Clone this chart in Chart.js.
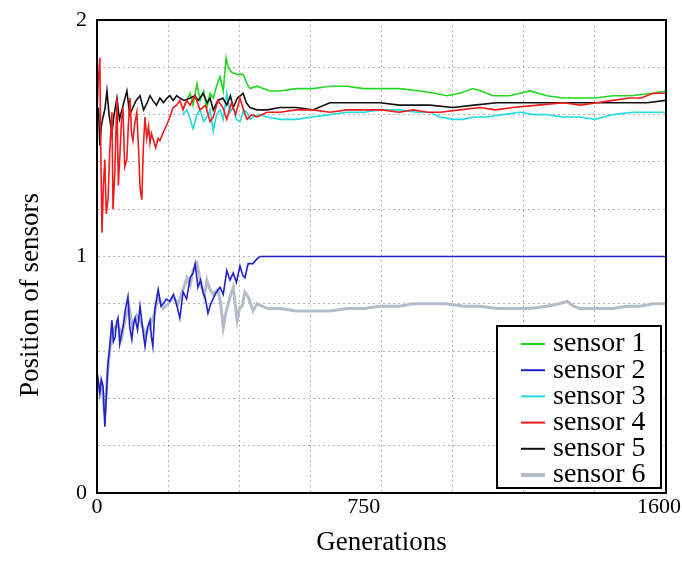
<!DOCTYPE html>
<html>
<head>
<meta charset="utf-8">
<script src="https://cdn.jsdelivr.net/npm/chart.js@4"></script>
<style>
  html, body { margin: 0; padding: 0; background: #fff; }
  #wrap { width: 682px; height: 561px; }
</style>
</head>
<body>
<div id="wrap"><canvas id="chart" width="682" height="561"></canvas></div>
<script>
// ---- data ----
const labels = ["sensor 1", "sensor 2", "sensor 3", "sensor 4", "sensor 5", "sensor 6"];
const xTickLabels = [0, 750, 1600];
const yTickLabels = [0, 1, 2];

const gens1 = [240, 253, 262, 270, 281, 290, 300, 309, 318, 327, 336, 346, 355, 363, 369, 378, 394, 411, 422, 430, 450, 467, 487, 515, 560, 607, 655, 703, 750, 796, 850, 908, 950, 984, 1020, 1057, 1080, 1114, 1160, 1218, 1265, 1310, 1358, 1400, 1451, 1500, 1564, 1600];
const sensor1 = [1.62, 1.66, 1.69, 1.64, 1.73, 1.66, 1.70, 1.63, 1.69, 1.67, 1.72, 1.76, 1.70, 1.84, 1.80, 1.78, 1.77, 1.77, 1.73, 1.71, 1.72, 1.71, 1.70, 1.70, 1.71, 1.71, 1.72, 1.72, 1.71, 1.71, 1.71, 1.70, 1.69, 1.68, 1.69, 1.71, 1.70, 1.68, 1.68, 1.70, 1.68, 1.67, 1.67, 1.67, 1.68, 1.68, 1.69, 1.70];

const gens2 = [0, 4, 8, 12, 17, 22, 26, 31, 36, 42, 46, 51, 55, 59, 64, 70, 75, 79, 87, 92, 98, 103, 107, 114, 121, 128, 135, 142, 149, 153, 157, 163, 172, 180, 186, 195, 205, 215, 225, 233, 242, 252, 262, 270, 276, 284, 291, 298, 305, 312, 320, 326, 336, 346, 355, 365, 374, 383, 392, 402, 410, 416, 425, 438, 450, 458, 480, 600, 800, 1000, 1200, 1400, 1600];
const sensor2 = [0.51, 0.47, 0.42, 0.48, 0.45, 0.28, 0.40, 0.55, 0.62, 0.73, 0.64, 0.66, 0.72, 0.74, 0.63, 0.68, 0.72, 0.77, 0.83, 0.70, 0.65, 0.72, 0.74, 0.69, 0.79, 0.70, 0.62, 0.70, 0.73, 0.66, 0.62, 0.78, 0.86, 0.79, 0.80, 0.82, 0.81, 0.84, 0.79, 0.74, 0.85, 0.82, 0.91, 0.93, 0.97, 0.87, 0.90, 0.85, 0.82, 0.76, 0.80, 0.82, 0.85, 0.87, 0.84, 0.94, 0.90, 0.93, 0.89, 0.96, 0.92, 0.91, 0.97, 0.97, 0.99, 1.00, 1.00, 1.00, 1.00, 1.00, 1.00, 1.00, 1.00];

const gens3 = [240, 253, 262, 270, 281, 290, 300, 309, 318, 327, 336, 346, 355, 365, 374, 383, 392, 402, 412, 422, 430, 439, 455, 478, 515, 560, 607, 655, 703, 750, 796, 850, 900, 936, 965, 1000, 1029, 1060, 1097, 1140, 1190, 1230, 1265, 1310, 1358, 1400, 1451, 1507, 1564, 1600];
const sensor3 = [1.60, 1.62, 1.58, 1.54, 1.60, 1.62, 1.57, 1.59, 1.62, 1.53, 1.60, 1.62, 1.58, 1.69, 1.61, 1.63, 1.58, 1.57, 1.62, 1.61, 1.58, 1.59, 1.60, 1.59, 1.58, 1.58, 1.59, 1.60, 1.61, 1.61, 1.62, 1.62, 1.61, 1.61, 1.59, 1.58, 1.58, 1.59, 1.59, 1.60, 1.61, 1.60, 1.60, 1.59, 1.59, 1.58, 1.60, 1.61, 1.61, 1.61];

const gens4 = [0, 4, 8, 11, 14, 18, 22, 26, 31, 36, 42, 45, 50, 56, 60, 65, 69, 73, 78, 84, 88, 93, 97, 101, 106, 112, 117, 121, 126, 130, 135, 140, 145, 149, 153, 157, 165, 172, 177, 185, 197, 205, 214, 224, 233, 242, 252, 262, 275, 290, 305, 318, 327, 340, 354, 365, 378, 390, 402, 412, 422, 435, 450, 478, 515, 560, 607, 655, 703, 749, 800, 850, 889, 930, 965, 1020, 1077, 1120, 1170, 1240, 1311, 1360, 1406, 1450, 1498, 1530, 1564, 1600];
const sensor4 = [1.60, 1.75, 1.84, 1.40, 1.10, 1.30, 1.41, 1.18, 1.24, 1.45, 1.61, 1.20, 1.35, 1.67, 1.30, 1.45, 1.58, 1.63, 1.38, 1.41, 1.55, 1.67, 1.52, 1.49, 1.56, 1.61, 1.45, 1.29, 1.24, 1.45, 1.59, 1.50, 1.55, 1.48, 1.52, 1.50, 1.46, 1.50, 1.49, 1.52, 1.56, 1.59, 1.63, 1.64, 1.66, 1.62, 1.66, 1.64, 1.68, 1.62, 1.64, 1.57, 1.59, 1.66, 1.63, 1.58, 1.65, 1.60, 1.67, 1.62, 1.58, 1.60, 1.59, 1.61, 1.61, 1.62, 1.62, 1.61, 1.62, 1.62, 1.62, 1.61, 1.62, 1.61, 1.61, 1.62, 1.63, 1.62, 1.63, 1.64, 1.65, 1.64, 1.65, 1.66, 1.67, 1.67, 1.69, 1.69];

const gens5 = [0, 4, 8, 12, 17, 22, 28, 34, 42, 48, 56, 63, 70, 77, 84, 92, 101, 110, 121, 131, 141, 149, 157, 167, 177, 187, 197, 205, 214, 224, 233, 245, 262, 275, 285, 298, 310, 318, 327, 340, 354, 365, 375, 383, 395, 411, 420, 430, 450, 478, 515, 560, 607, 655, 703, 750, 796, 850, 900, 936, 1001, 1060, 1125, 1190, 1265, 1330, 1406, 1470, 1547, 1600];
const sensor5 = [1.57, 1.63, 1.47, 1.55, 1.59, 1.62, 1.70, 1.60, 1.52, 1.60, 1.67, 1.58, 1.62, 1.66, 1.70, 1.60, 1.63, 1.66, 1.68, 1.62, 1.65, 1.68, 1.66, 1.64, 1.67, 1.65, 1.67, 1.68, 1.66, 1.68, 1.67, 1.66, 1.67, 1.68, 1.66, 1.69, 1.65, 1.67, 1.62, 1.66, 1.67, 1.64, 1.68, 1.63, 1.67, 1.69, 1.65, 1.63, 1.62, 1.62, 1.63, 1.63, 1.62, 1.65, 1.65, 1.65, 1.65, 1.64, 1.64, 1.64, 1.63, 1.64, 1.65, 1.65, 1.65, 1.65, 1.65, 1.65, 1.65, 1.66];

const gens6 = [0, 6, 14, 22, 30, 40, 50, 60, 70, 80, 90, 100, 112, 124, 136, 148, 160, 172, 186, 200, 214, 228, 242, 253, 262, 270, 281, 288, 295, 302, 309, 318, 327, 340, 348, 355, 362, 369, 376, 383, 394, 401, 408, 416, 425, 432, 439, 450, 464, 480, 515, 560, 607, 655, 703, 750, 796, 850, 889, 940, 984, 1030, 1077, 1125, 1170, 1218, 1265, 1300, 1322, 1340, 1358, 1400, 1451, 1490, 1527, 1564, 1600];
const sensor6 = [0.50, 0.44, 0.46, 0.33, 0.52, 0.66, 0.70, 0.71, 0.66, 0.74, 0.79, 0.70, 0.75, 0.72, 0.67, 0.70, 0.75, 0.83, 0.78, 0.80, 0.83, 0.80, 0.86, 0.91, 0.88, 0.94, 0.97, 0.92, 0.87, 0.83, 0.90, 0.86, 0.84, 0.86, 0.80, 0.70, 0.76, 0.80, 0.84, 0.87, 0.73, 0.78, 0.79, 0.85, 0.83, 0.80, 0.77, 0.80, 0.79, 0.78, 0.78, 0.77, 0.77, 0.77, 0.78, 0.78, 0.79, 0.79, 0.80, 0.80, 0.80, 0.79, 0.79, 0.78, 0.78, 0.78, 0.79, 0.80, 0.81, 0.79, 0.78, 0.78, 0.78, 0.79, 0.79, 0.80, 0.80];

const colors = ["#22d622", "#1f22c8", "#22dce0", "#ee1c1c", "#111111", "#b4bccb"];
const widths = [1.6, 1.6, 1.6, 1.6, 1.6, 3];
const drawOrder = [4, 5, 3, 1, 2, 6]; // lower = drawn on top

const serif = "'Liberation Serif', 'DejaVu Serif', serif";
const tickFont = { family: serif, size: 22 };

function toPoints(xs, ys) {
  return xs.map((x, i) => ({ x: x, y: ys[i] }));
}

const allGens = [gens1, gens2, gens3, gens4, gens5, gens6];
const allVals = [sensor1, sensor2, sensor3, sensor4, sensor5, sensor6];

const datasets = labels.map((name, i) => ({
  label: name,
  data: toPoints(allGens[i], allVals[i]),
  borderColor: colors[i],
  backgroundColor: colors[i],
  borderWidth: widths[i],
  pointRadius: 0,
  tension: 0,
  order: drawOrder[i]
}));

const lastX = xTickLabels[xTickLabels.length - 1];

// frame round the plot, legend box, y title, last x label (kept inside the canvas)
const extras = {
  id: "extras",
  afterDatasetsDraw(chart) {
    const { ctx, chartArea: a } = chart;
    ctx.save();
    ctx.strokeStyle = "#000";
    ctx.lineWidth = 2;
    ctx.strokeRect(a.left, a.top, a.right - a.left, a.bottom - a.top);
    ctx.restore();
  },
  afterDraw(chart) {
    const { ctx, chartArea: a } = chart;
    ctx.save();

    // legend
    const bw = 164, bh = 162;
    const bx = a.right - 5 - bw, by = a.bottom - 5 - bh;
    ctx.fillStyle = "#fff";
    ctx.fillRect(bx, by, bw, bh);
    ctx.strokeStyle = "#000";
    ctx.lineWidth = 2;
    ctx.strokeRect(bx, by, bw, bh);
    ctx.font = "28px " + serif;
    ctx.textBaseline = "middle";
    chart.data.datasets.forEach((ds, i) => {
      const cy = by + 18 + i * 26.2;
      ctx.strokeStyle = ds.borderColor;
      ctx.lineWidth = i === 5 ? 4 : 2;
      ctx.beginPath();
      ctx.moveTo(bx + 24, cy);
      ctx.lineTo(bx + 48, cy);
      ctx.stroke();
      ctx.fillStyle = "#000";
      ctx.fillText(ds.label, bx + 56, cy);
    });

    // last x tick label, pulled in so it fits like the original
    const sx = chart.scales.x;
    ctx.font = tickFont.size + "px " + serif;
    ctx.fillStyle = "#000";
    ctx.textAlign = "right";
    ctx.textBaseline = "middle";
    ctx.fillText(String(lastX), Math.min(sx.getPixelForValue(lastX) + 16, chart.width - 1), a.bottom + 14);

    // y axis title
    ctx.translate(31, 295);
    ctx.rotate(-Math.PI / 2);
    ctx.textAlign = "center";
    ctx.textBaseline = "middle";
    ctx.fillStyle = "#000";
    ctx.font = "27px " + serif;
    ctx.fillText("Position of sensors", 0, 0);
    ctx.restore();
  }
};

new Chart(document.getElementById("chart"), {
  type: "line",
  data: { datasets: datasets },
  options: {
    responsive: false,
    animation: false,
    layout: { padding: { top: 20, right: 16, left: 0, bottom: 0 } },
    plugins: {
      legend: { display: false },
      tooltip: { enabled: false }
    },
    scales: {
      x: {
        type: "linear",
        min: 0,
        max: 1600,
        afterBuildTicks: (scale) => {
          const t = [];
          for (let v = 0; v <= 1600; v += 200) t.push(v);
          t.push(750);
          t.sort((p, q) => p - q);
          scale.ticks = t.map(v => ({ value: v }));
        },
        afterFit: (scale) => {
          scale.height = 68;
          scale.paddingRight = 0;
          scale.paddingLeft = 0;
        },
        ticks: {
          autoSkip: false,
          maxRotation: 0,
          padding: 1,
          color: "#000",
          font: tickFont,
          callback: (v) => (xTickLabels.includes(v) && v !== lastX) ? String(v) : ""
        },
        grid: {
          drawTicks: false,
          color: (c) => (c.tick && (c.tick.value === 750 || c.tick.value === 0 || c.tick.value === 1600)) ? "rgba(0,0,0,0)" : "rgba(120,120,120,0.55)",
          lineWidth: 1
        },
        border: { display: true, color: "#000", width: 2, dash: [2, 3] },
        title: {
          display: true,
          text: "Generations",
          color: "#000",
          font: { family: serif, size: 27 },
          padding: { top: 0, bottom: 2 }
        }
      },
      y: {
        min: 0,
        max: 2,
        afterFit: (scale) => {
          scale.width = 97;
          scale.paddingTop = 0;
          scale.paddingBottom = 0;
        },
        ticks: {
          stepSize: 0.2,
          padding: 10,
          color: "#000",
          font: tickFont,
          callback: (v) => {
            const r = Math.round(v);
            return (Math.abs(v - r) < 1e-6 && yTickLabels.includes(r)) ? String(r) : "";
          }
        },
        grid: {
          drawTicks: false,
          color: "rgba(120,120,120,0.55)",
          lineWidth: 1
        },
        border: { display: true, color: "#000", width: 2, dash: [2, 3] }
      }
    }
  },
  plugins: [extras]
});
</script>
</body>
</html>
